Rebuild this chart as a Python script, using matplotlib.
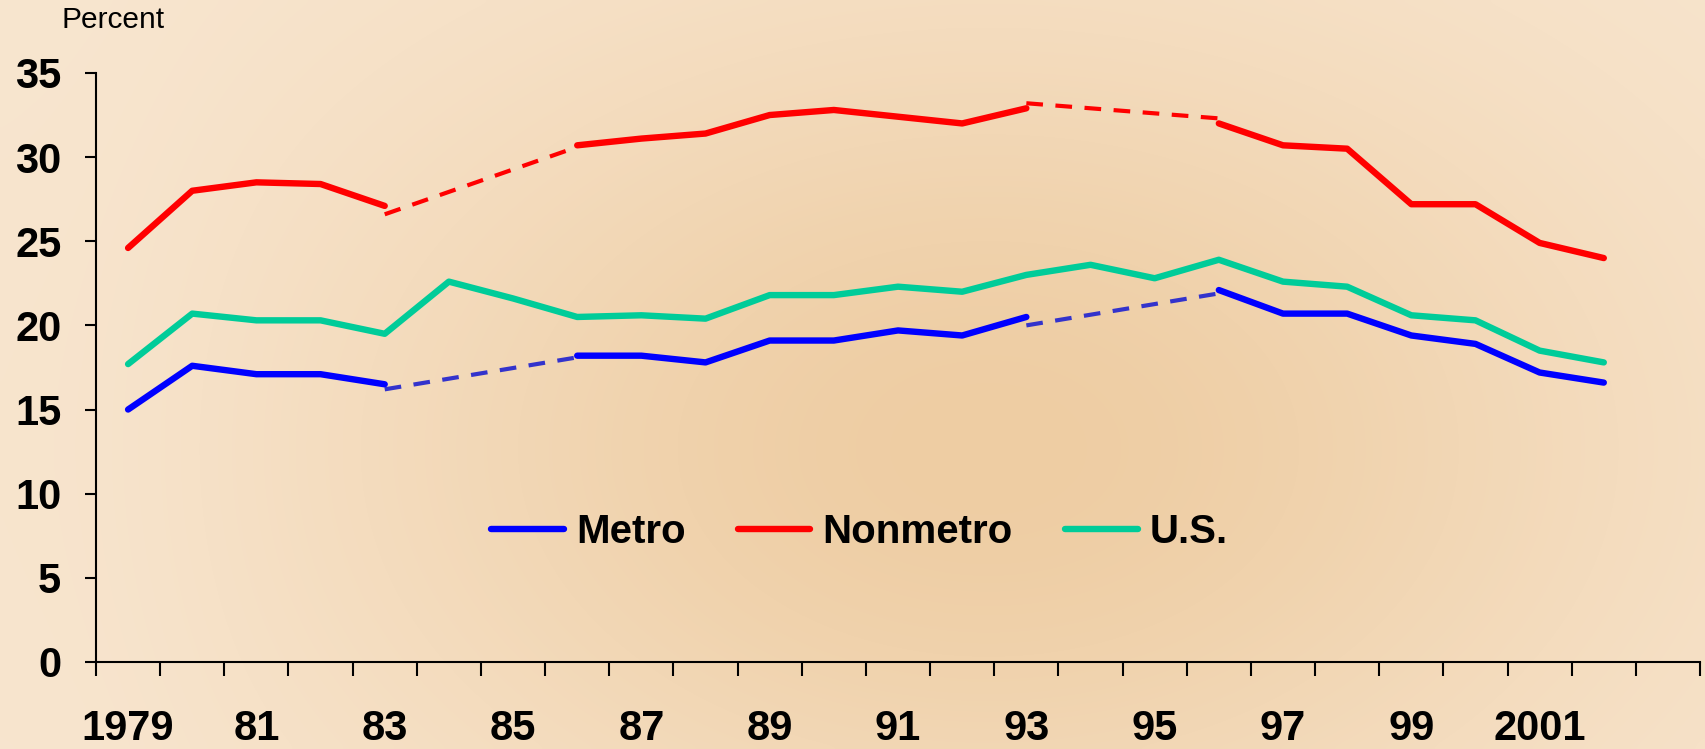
import numpy as np
import matplotlib
matplotlib.use('Agg')
import matplotlib.pyplot as plt
from matplotlib.colors import to_rgb
from matplotlib import font_manager

# ── Data (percent) ──
years = list(range(1979, 2003))
metro = [15.0, 17.6, 17.1, 17.1, 16.5, np.nan, np.nan, 18.2, 18.2, 17.8, 19.1, 19.1,
         19.7, 19.4, 20.5, np.nan, np.nan, 22.1, 20.7, 20.7, 19.4, 18.9, 17.2, 16.6]
nonmetro = [24.6, 28.0, 28.5, 28.4, 27.1, np.nan, np.nan, 30.7, 31.1, 31.4, 32.5, 32.8,
            32.4, 32.0, 32.9, np.nan, np.nan, 32.0, 30.7, 30.5, 27.2, 27.2, 24.9, 24.0]
us = [17.7, 20.7, 20.3, 20.3, 19.5, 22.6, 21.6, 20.5, 20.6, 20.4, 21.8, 21.8,
      22.3, 22.0, 23.0, 23.6, 22.8, 23.9, 22.6, 22.3, 20.6, 20.3, 18.5, 17.8]

# dashed bridges across the series breaks
metro_bridges = [([1983, 1986], [16.2, 18.1]), ([1993, 1996], [20.0, 21.9])]
nonmetro_bridges = [([1983, 1986], [26.6, 30.6]), ([1993, 1996], [33.2, 32.3])]

tick_labels = ['1979', '81', '83', '85', '87', '89', '91', '93', '95', '97', '99', '2001']
n_slots = 25  # category slots 1979..2003

bold_family = ['Liberation Sans', 'Arial', 'DejaVu Sans']
avail = {f.name for f in font_manager.fontManager.ttflist}
narrow_family = ['Liberation Sans Narrow'] if 'Liberation Sans Narrow' in avail else bold_family

fig = plt.figure(figsize=(17.05, 7.49), dpi=100)

# ── Background gradient ──
bg = fig.add_axes([0, 0, 1, 1], zorder=-10)
h, w = 150, 340
yy, xx = np.mgrid[0:1:h * 1j, 0:1:w * 1j]
dark = np.exp(-(((xx - 0.58) ** 2) / 0.15 + ((yy - 0.6) ** 2) / 0.35))
dark = dark * (1 - 0.4 * np.exp(-((xx - 0.03) ** 2) / 0.008))
light_c = np.array(to_rgb('#F8E6D0'))
dark_c = np.array(to_rgb('#EECDA3'))
img = light_c[None, None, :] * (1 - dark[..., None]) + dark_c[None, None, :] * dark[..., None]
bg.imshow(img, aspect='auto', extent=(0, 1, 0, 1), origin='upper', interpolation='bicubic')
bg.axis('off')

ax = fig.add_axes([0.0563, 0.1162, 0.9408, 0.7864])
ax.set_facecolor('none')

lw_solid = 4.6
xpos = np.arange(len(years)) + 0.5
ax.plot(xpos, metro, color='#0000FF', lw=lw_solid, solid_capstyle='round', label='Metro', zorder=3)
ax.plot(xpos, nonmetro, color='#FF0000', lw=lw_solid, solid_capstyle='round', label='Nonmetro', zorder=3)
ax.plot(xpos, us, color='#00CC99', lw=lw_solid, solid_capstyle='round', label='U.S.', zorder=3)

for yrs, vals in metro_bridges:
    bx = [years.index(y) + 0.5 for y in yrs]
    ax.plot(bx, vals, color='#3333CC', lw=3.0, dashes=(4, 3), zorder=2)
for yrs, vals in nonmetro_bridges:
    bx = [years.index(y) + 0.5 for y in yrs]
    ax.plot(bx, vals, color='#FF0000', lw=3.0, dashes=(4, 3), zorder=2)

ax.set_xlim(0, n_slots)
ax.set_ylim(0, 35)
ax.set_yticks(range(0, 36, 5))
ax.set_yticklabels([str(v) for v in range(0, 36, 5)], fontsize=30, fontweight='bold',
                   family=bold_family)
ax.tick_params(axis='y', direction='out', length=8, width=1.5, pad=17)

ax.set_xticks(range(0, n_slots + 1))
ax.set_xticklabels([])
ax.set_xticks(np.arange(0, len(years), 2) + 0.5, minor=True)
ax.set_xticklabels(tick_labels, minor=True, fontsize=30, fontweight='bold', family=narrow_family)
ax.tick_params(axis='x', which='major', direction='out', length=10, width=1.5)
ax.tick_params(axis='x', which='minor', length=0, pad=34)

for s in ['top', 'right']:
    ax.spines[s].set_visible(False)
for s in ['left', 'bottom']:
    ax.spines[s].set_linewidth(1.5)

fig.text(0.036, 0.962, 'Percent', fontsize=21.5, family=bold_family, ha='left', va='baseline')

leg = ax.legend(loc='center', bbox_to_anchor=(0.476, 0.221), ncol=3, frameon=False,
                prop={'family': bold_family, 'weight': 'bold', 'size': 29},
                handlelength=1.8, handletextpad=0.3, columnspacing=1.3)
for line in leg.get_lines():
    line.set_linewidth(lw_solid)

fig.savefig('out.png', dpi=100)
